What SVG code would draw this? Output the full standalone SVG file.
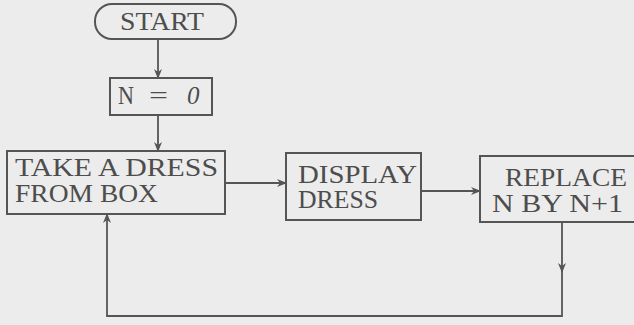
<svg xmlns="http://www.w3.org/2000/svg" width="634" height="325" viewBox="0 0 634 325">
<style>
.bg{fill:#ececec}
.box{fill:none;stroke:#555;stroke-width:2}
.ln{fill:none;stroke:#555;stroke-width:1.8}
text{font-family:"Liberation Serif","DejaVu Serif",serif;fill:#4d4d4d;font-size:25px}
</style>
<defs>
<marker id="ah" viewBox="0 0 10 10" refX="9" refY="5" markerWidth="10" markerHeight="10" markerUnits="userSpaceOnUse" orient="auto">
<path d="M0,1 L10,5 L0,9 L3,5 Z" fill="#555"/>
</marker>
</defs>
<rect class="bg" x="0" y="0" width="634" height="325"/>
<g id="start">
<rect class="box" x="95" y="4" width="141" height="35" rx="17" ry="17"/>
<text x="120" y="30" textLength="84" lengthAdjust="spacingAndGlyphs">START</text>
</g>
<g id="n0">
<rect class="box" x="110" y="78" width="102" height="37"/>
<text x="118" y="104" textLength="16" lengthAdjust="spacingAndGlyphs">N</text>
<text x="149" y="104" textLength="19" lengthAdjust="spacingAndGlyphs">=</text>
<text x="187" y="104" font-style="italic">0</text>
</g>
<g id="take">
<rect class="box" x="7" y="151" width="218" height="63"/>
<text x="15" y="176" textLength="203" lengthAdjust="spacingAndGlyphs">TAKE A DRESS</text>
<text x="15" y="202" textLength="143" lengthAdjust="spacingAndGlyphs">FROM BOX</text>
</g>
<g id="display">
<rect class="box" x="286" y="153" width="135" height="67"/>
<text x="298" y="183" textLength="119" lengthAdjust="spacingAndGlyphs">DISPLAY</text>
<text x="298" y="208" textLength="80" lengthAdjust="spacingAndGlyphs">DRESS</text>
</g>
<g id="replace">
<rect class="box" x="480" y="156" width="160" height="66"/>
<text x="505" y="186" textLength="122" lengthAdjust="spacingAndGlyphs">REPLACE</text>
<text x="492" y="212" textLength="131" lengthAdjust="spacingAndGlyphs">N BY N+1</text>
</g>
<g id="connectors">
<line class="ln" x1="158" y1="39" x2="158" y2="78" marker-end="url(#ah)"/>
<line class="ln" x1="158" y1="115" x2="158" y2="151" marker-end="url(#ah)"/>
<line class="ln" x1="225" y1="183" x2="286" y2="183" marker-end="url(#ah)"/>
<line class="ln" x1="421" y1="191" x2="480" y2="191" marker-end="url(#ah)"/>
<line class="ln" x1="562" y1="222" x2="562" y2="272" marker-end="url(#ah)"/>
<polyline class="ln" points="562,270 562,316 107,316 107,214" marker-end="url(#ah)"/>
</g>
</svg>
